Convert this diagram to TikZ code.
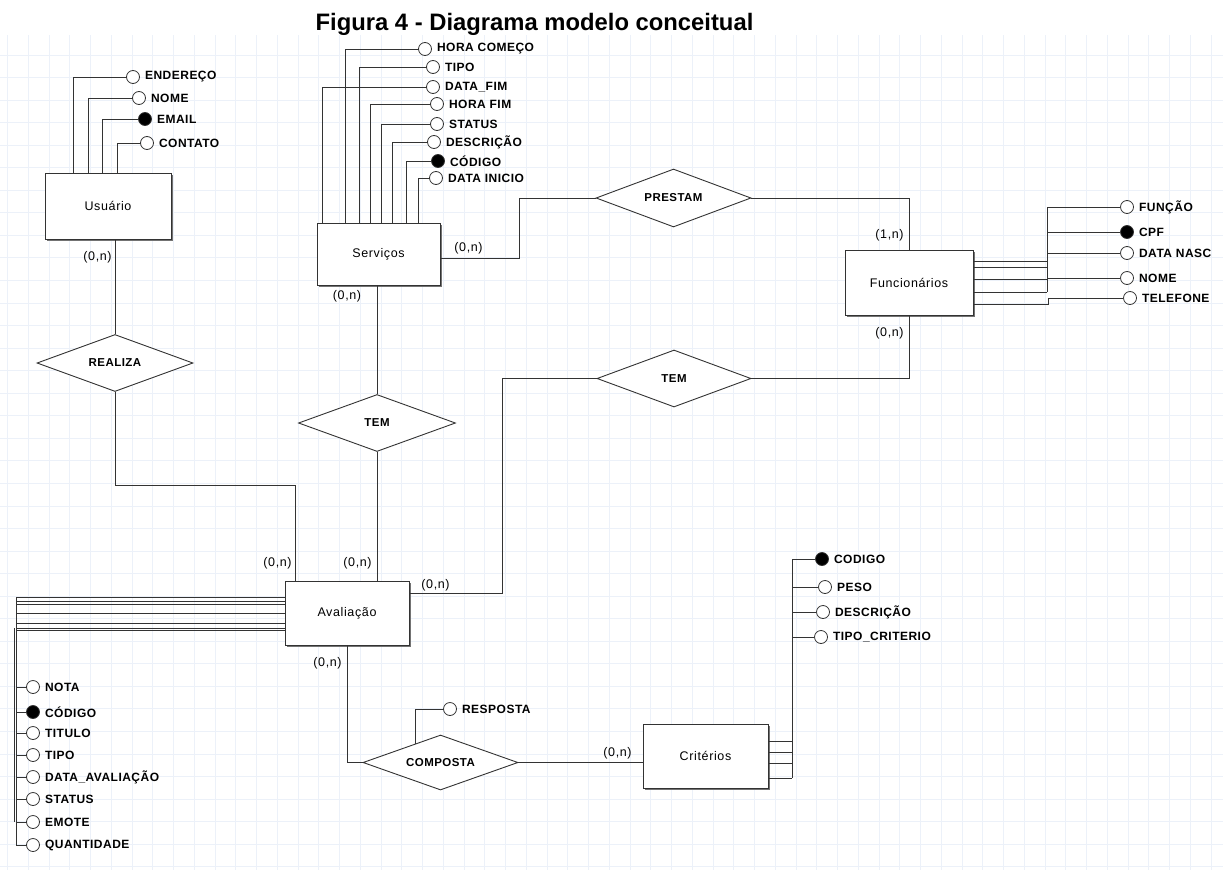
\documentclass[tikz,border=0pt]{standalone}
\usepackage{fontspec}
\setmainfont{Liberation Sans}
\newfontfamily\spacedfont[LetterSpace=5]{Liberation Sans}
\newfontfamily\widefont[LetterSpace=4]{Liberation Sans}
\usetikzlibrary{calc,positioning,shapes.geometric,shadows}
\definecolor{gridBlue}{RGB}{236,241,249}
\definecolor{lineGray}{RGB}{51,51,51}

\begin{document}
\begin{tikzpicture}[x=1pt,y=-1pt,
  entity/.style={draw=lineGray,line width=0.9pt,fill=white,inner sep=0pt,font=\spacedfont\fontsize{12.5}{14}\selectfont,drop shadow={shadow xshift=2pt,shadow yshift=-2pt,fill=black!55,opacity=1}},
  relation/.style={diamond,draw=lineGray,line width=0.9pt,fill=white,aspect=2.7,inner sep=0pt,font=\widefont\bfseries\fontsize{11.5}{13}\selectfont},
  attr/.style={circle,draw=lineGray,line width=0.8pt,fill=white,minimum size=13pt,inner sep=0pt},
  keyattr/.style={attr,fill=black},
  lbl/.style={font=\widefont\bfseries\fontsize{12}{14}\selectfont,inner sep=1pt,xshift=4pt},
  card/.style={font=\spacedfont\fontsize{12.5}{14}\selectfont,inner sep=0pt},
  conn/.style={draw=lineGray,line width=0.9pt}
]
\useasboundingbox (0,0) rectangle (1223,870);
% background grid
\fill[white] (0,0) rectangle (1223,870);
\foreach \i in {0,...,58} \draw[gridBlue,line width=1pt] ({7.5+20.75*\i},35) -- ({7.5+20.75*\i},870);
\foreach \j in {0,...,36} \draw[gridBlue,line width=1pt] (0,{55+22.55*\j}) -- (1223,{55+22.55*\j});

\node[font=\bfseries\fontsize{23.8}{27}\selectfont,anchor=base] (titulo) at (534.5,30) {Figura 4 - Diagrama modelo conceitual};

% entities
\node[entity,minimum width=126pt,minimum height=66pt] (usuario) at (108,206) {Usuário};
\node[entity,minimum width=123pt,minimum height=62pt] (servicos) at (378.5,254) {Serviços};
\node[entity,minimum width=128pt,minimum height=65pt] (funcionarios) at (909,282.5) {Funcionários};
\node[entity,minimum width=124pt,minimum height=64pt] (avaliacao) at (347,613) {Avaliação};
\node[entity,minimum width=125pt,minimum height=64pt] (criterios) at (705.5,756) {Critérios};

% relationships
\node[relation,minimum width=156pt,minimum height=57pt] (realiza) at (115,363) {REALIZA};
\node[relation,minimum width=157pt,minimum height=57pt] (temserv) at (377,423) {TEM};
\node[relation,minimum width=155pt,minimum height=58pt] (prestam) at (673.5,198) {PRESTAM};
\node[relation,minimum width=154pt,minimum height=57pt] (temfunc) at (674,378.5) {TEM};
\node[relation,minimum width=155pt,minimum height=55pt] (composta) at (440.5,762.5) {COMPOSTA};

% attributes of Usuario
\node[attr,label={[lbl]right:ENDEREÇO}] (u-endereco) at (133,77) {};
\node[attr,label={[lbl]right:NOME}] (u-nome) at (139,98) {};
\node[keyattr,label={[lbl]right:EMAIL}] (u-email) at (145,119) {};
\node[attr,label={[lbl]right:CONTATO}] (u-contato) at (147,143) {};
\draw[conn] (usuario.north west) ++(29,0) |- (u-endereco);
\draw[conn] (usuario.north west) ++(44,0) |- (u-nome);
\draw[conn] (usuario.north west) ++(58,0) |- (u-email);
\draw[conn] (usuario.north west) ++(73,0) |- (u-contato);

% attributes of Servicos
\node[attr,label={[lbl]right:HORA COMEÇO}] (s-horacomeco) at (425,49) {};
\node[attr,label={[lbl]right:TIPO}] (s-tipo) at (433,67) {};
\node[attr,label={[lbl]right:DATA\_FIM}] (s-datafim) at (433,87) {};
\node[attr,label={[lbl]right:HORA FIM}] (s-horafim) at (437,104) {};
\node[attr,label={[lbl]right:STATUS}] (s-status) at (437,124) {};
\node[attr,label={[lbl]right:DESCRIÇÃO}] (s-descricao) at (434,142) {};
\node[keyattr,label={[lbl]right:CÓDIGO}] (s-codigo) at (438,161) {};
\node[attr,label={[lbl]right:DATA INICIO}] (s-datainicio) at (436,178) {};
\draw[conn] (servicos.north west) ++(29,0) |- (s-horacomeco);
\draw[conn] (servicos.north west) ++(43,0) |- (s-tipo);
\draw[conn] (servicos.north west) ++(6,0) |- (s-datafim);
\draw[conn] (servicos.north west) ++(54,0) |- (s-horafim);
\draw[conn] (servicos.north west) ++(65,0) |- (s-status);
\draw[conn] (servicos.north west) ++(76,0) |- (s-descricao);
\draw[conn] (servicos.north west) ++(90,0) |- (s-codigo);
\draw[conn] (servicos.north west) ++(102,0) |- (s-datainicio);

% attributes of Funcionarios
\node[attr,label={[lbl]right:FUNÇÃO}] (f-funcao) at (1127,207) {};
\node[keyattr,label={[lbl]right:CPF}] (f-cpf) at (1127,232) {};
\node[attr,label={[lbl]right:DATA NASC}] (f-datanasc) at (1127,253) {};
\node[attr,label={[lbl]right:NOME}] (f-nome) at (1127,278) {};
\node[attr,label={[lbl]right:TELEFONE}] (f-telefone) at (1130,298) {};
\coordinate (fbus) at (1047,292);
\foreach \dy in {-21.5,-15.5,-3.5,9.5} \draw[conn] ($(funcionarios.east)+(0,\dy)$) -- ++(74,0);
\draw[conn] (fbus) |- (f-funcao);
\foreach \a in {f-cpf,f-datanasc,f-nome} \draw[conn] (fbus |- \a) -- (\a);
\draw[conn] ($(funcionarios.east)+(0,21.5)$) -- ++(75,0) |- (f-telefone);

% attributes of Avaliacao
\node[attr,label={[lbl]right:NOTA}] (a-nota) at (33,687) {};
\node[keyattr,label={[lbl]right:CÓDIGO}] (a-codigo) at (33,712) {};
\node[attr,label={[lbl]right:TITULO}] (a-titulo) at (33,733) {};
\node[attr,label={[lbl]right:TIPO}] (a-tipo) at (33,755) {};
\node[attr,label={[lbl]right:DATA\_AVALIAÇÃO}] (a-data) at (33,777) {};
\node[attr,label={[lbl]right:STATUS}] (a-status) at (33,799) {};
\node[attr,label={[lbl]right:EMOTE}] (a-emote) at (33,822) {};
\node[attr,label={[lbl]right:QUANTIDADE}] (a-quantidade) at (33,845) {};
\coordinate (abus) at (16,597);
\coordinate (abus2) at (14.5,628);
\foreach \dy in {-16,-12,-9,0,10,15,17} \draw[conn] ($(avaliacao.west)+(0,\dy)$) -- ++(-269,0);
\draw[conn] (abus) |- (a-quantidade);
\draw[conn] (abus2) -- (abus2 |- a-emote);
\foreach \a in {a-nota,a-codigo,a-titulo,a-tipo,a-data,a-status,a-emote} \draw[conn] (abus |- \a) -- (\a);

% attributes of Criterios
\node[keyattr,label={[lbl]right:CODIGO}] (c-codigo) at (822,559) {};
\node[attr,label={[lbl]right:PESO}] (c-peso) at (825,587) {};
\node[attr,label={[lbl]right:DESCRIÇÃO}] (c-descricao) at (823,612) {};
\node[attr,label={[lbl]right:TIPO\_CRITERIO}] (c-tipo) at (821,637) {};
\coordinate (cbus) at (792,778);
\foreach \dy in {-15,-4,7,22} \draw[conn] ($(criterios.east)+(0,\dy)$) -- ++(24,0);
\draw[conn] (cbus) |- (c-codigo);
\foreach \a in {c-peso,c-descricao,c-tipo} \draw[conn] (cbus |- \a) -- (\a);

% attribute of Composta
\node[attr,label={[lbl]right:RESPOSTA}] (r-resposta) at (450,709) {};
\draw[conn] ($(composta.west)!0.675!(composta.north)$) |- (r-resposta);

% relationships
\draw[conn] (realiza.north) -- (realiza.north |- usuario.south);
\draw[conn] (realiza.south) -- ++(0,93) -| ($(avaliacao.north west)+(11,0)$);
\draw[conn] (temserv.north) -- (temserv.north |- servicos.south);
\draw[conn] (temserv.south) -- (temserv.south |- avaliacao.north);
\draw[conn] ($(servicos.east)+(0,4)$) -- ++(79,0) |- (prestam.west);
\draw[conn] (prestam.east) -| (funcionarios.north);
\draw[conn] ($(avaliacao.east)+(0,-20)$) -- ++(93,0) |- (temfunc.west);
\draw[conn] (temfunc.east) -| (funcionarios.south);
\draw[conn] (avaliacao.south) |- (composta.west);
\draw[conn] (composta.east) -- (composta.east -| criterios.west);

% cardinalities
\node[card] (card-us) at (97.5,257) {(0,n)};
\node[card] (card-sv) at (468.5,248) {(0,n)};
\node[card] (card-sv2) at (347,296) {(0,n)};
\node[card] (card-fu1) at (889.5,235) {(1,n)};
\node[card] (card-fu2) at (889.5,333) {(0,n)};
\node[card] (card-av1) at (277.5,563) {(0,n)};
\node[card] (card-av2) at (357.5,563) {(0,n)};
\node[card] (card-av3) at (435.5,585) {(0,n)};
\node[card] (card-av4) at (327.5,663) {(0,n)};
\node[card] (card-cr) at (617.5,753) {(0,n)};
\end{tikzpicture}
\end{document}
